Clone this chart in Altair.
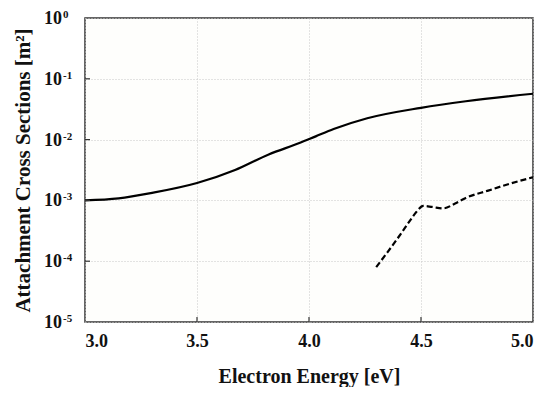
import altair as alt
import pandas as pd

# Solid curve (total attachment cross section)
solid_x = [3.0, 3.15, 3.3, 3.5, 3.67, 3.82, 3.96, 4.03, 4.11, 4.26, 4.5, 4.7, 5.0]
solid_y = [1.0e-3, 1.08e-3, 1.33e-3, 1.93e-3, 3.16e-3, 5.7e-3, 8.85e-3, 1.13e-2, 1.49e-2, 2.24e-2,
           3.33e-2, 4.27e-2, 5.68e-2]

# Dashed curve
dash_x = [4.3, 4.35, 4.4, 4.45, 4.48, 4.51, 4.55, 4.6, 4.65, 4.7, 4.8, 4.9, 5.0]
dash_y = [8.0e-5, 1.4e-4, 2.5e-4, 4.6e-4, 6.5e-4, 8.1e-4, 7.8e-4, 7.4e-4, 8.8e-4, 1.1e-3, 1.45e-3, 1.9e-3, 2.4e-3]

x_ticks = [3.0, 3.5, 4.0, 4.5, 5.0]
y_ticks = [1e-5, 1e-4, 1e-3, 1e-2, 1e-1, 1e0]
y_base = ["10", "10", "10", "10", "10", "10"]
y_exp = ["-5", "-4", "-3", "-2", "-1", "0"]

solid = pd.DataFrame({"x": solid_x, "y": solid_y})
dashed = pd.DataFrame({"x": dash_x, "y": dash_y})
ylab = pd.DataFrame({"y": y_ticks, "base": y_base, "exp": y_exp})

FONT = "Liberation Serif"
H = 304

xscale = alt.Scale(domain=[3.0, 5.0], nice=False, zero=False)
yscale = alt.Scale(type="log", domain=[1e-5, 1.0], nice=False)

xenc = alt.X("x:Q", scale=xscale,
             axis=alt.Axis(values=x_ticks, format=".1f", title="Electron Energy [eV]",
                           titleFontSize=20, titleY=54, titleBaseline="middle",
                           labelPadding=10, tickSize=0, domain=False))
yenc = alt.Y("y:Q", scale=yscale,
             axis=alt.Axis(values=y_ticks, labels=False,
                           title="Attachment Cross Sections [m²]",
                           titleFontSize=21, titleX=-62, titleY=H / 2, titleAngle=270,
                           titleAlign="center", titleBaseline="middle",
                           tickSize=0, domain=False))

line_solid = alt.Chart(solid).mark_line(color="black", strokeWidth=2.2, interpolate="monotone").encode(x=xenc, y=yenc)
line_dash = alt.Chart(dashed).mark_line(color="black", strokeWidth=2.2, strokeDash=[6, 3],
                                        interpolate="monotone").encode(x="x:Q", y="y:Q")

ytick_df = pd.DataFrame({"y": y_ticks[1:-1]})
yticks = alt.Chart(ytick_df).mark_rule(color="#333", strokeWidth=1.2).encode(
    y="y:Q", x=alt.value(0), x2=alt.value(5))
xtick_df = pd.DataFrame({"x": x_ticks[1:-1]})
xticks = alt.Chart(xtick_df).mark_rule(color="#333", strokeWidth=1.2).encode(
    x="x:Q", y=alt.value(H), y2=alt.value(H - 5))

base_txt = alt.Chart(ylab).mark_text(font=FONT, fontWeight="bold", fontSize=18, align="left",
                                     baseline="middle", color="#111", dy=1).encode(
    y="y:Q", x=alt.value(-41), text="base:N")
exp_txt = alt.Chart(ylab).mark_text(font=FONT, fontWeight="bold", fontSize=11, align="left",
                                    baseline="middle", color="#111", dy=-3).encode(
    y="y:Q", x=alt.value(-22), text="exp:N")

chart = alt.layer(line_solid, line_dash, yticks, xticks, base_txt, exp_txt).properties(
    width=448, height=H,
    background="white",
    autosize=alt.AutoSizeParams(type="none"),
    padding={"left": 77, "top": 10, "right": 9, "bottom": 65},
).configure_view(
    stroke="#333", strokeWidth=1.5, fill="#fefefc"
).configure_axis(
    labelFont=FONT, titleFont=FONT, labelFontWeight="bold", titleFontWeight="bold",
    labelFontSize=18, labelColor="#111", titleColor="#111",
    gridColor="#c8c8c8", gridDash=[1, 2], gridWidth=1,
)

chart.save("out.html", embed_options={"renderer": "svg", "actions": False})
